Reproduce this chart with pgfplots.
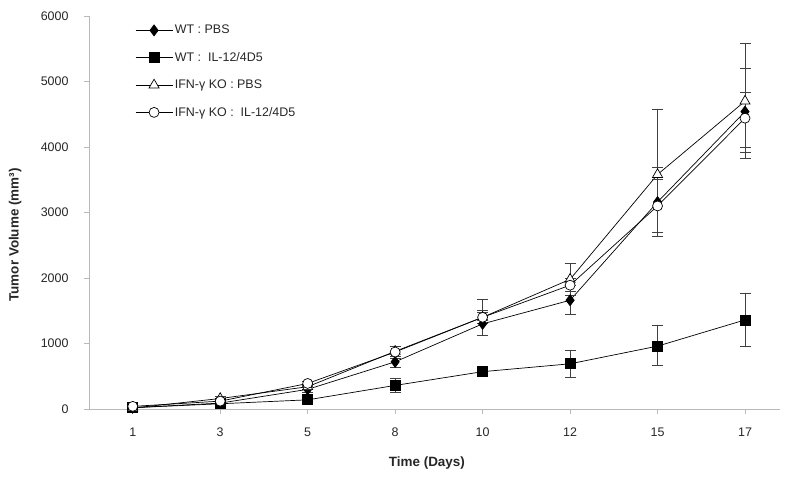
\documentclass[border=0pt]{standalone}
\usepackage{fontspec}
\setmainfont{Liberation Sans}
\usepackage{pgfplots}
\usepackage{pgfplotstable}
\pgfplotsset{compat=1.18}

\pgfplotstableread{
x y ep em
0 20 10 10
1 90 20 20
2 300 40 40
3 720 80 80
4 1300 180 180
5 1660 220 220
6 3160 530 530
7 4540 660 630
}\wtpbs
\pgfplotstableread{
x y ep em
0 20 10 10
1 80 15 15
2 140 30 30
3 360 100 100
4 570 60 60
5 690 210 210
6 960 310 300
7 1360 400 400
}\wtil
\pgfplotstableread{
x y ep em
0 15 10 10
1 160 30 30
2 340 40 40
3 880 80 80
4 1400 280 280
5 1980 240 240
6 3580 1000 950
7 4700 880 870
}\kopbs
\pgfplotstableread{
x y ep em
0 40 10 10
1 120 20 20
2 390 30 30
3 870 90 90
4 1400 100 100
5 1890 100 100
6 3100 400 400
7 4440 400 450
}\koil

\begin{document}
\begin{tikzpicture}
\begin{axis}[
  name=ax,
  scale only axis=true,
  width=691bp, height=393bp,
  xmin=-0.5, xmax=7.4,
  ymin=0, ymax=6000,
  clip=false,
  axis lines=left,
  axis line style={gray!55, line width=0.7pt, -},
  xtick={0,...,7},
  xticklabels={1,3,5,8,10,12,15,17},
  ytick={0,1000,...,6000},
  tick align=outside,
  major tick length=5bp,
  tick style={gray!55, line width=0.7pt},
  /pgf/number format/assume math mode=true,
  scaled y ticks=false,
  yticklabel style={/pgf/number format/1000 sep={}, xshift=-12bp},
  xticklabel style={yshift=-10bp},
  tick label style={font=\fontsize{12.5}{14}\selectfont, text=black!85},
  xlabel={Time (Days)},
  ylabel={Tumor Volume (mm³)},
  label style={font=\fontsize{13.5}{15}\selectfont\bfseries, text=black!85},
  xlabel style={at={(axis description cs:0.489,-0.137)}, anchor=center},
  ylabel style={at={(axis description cs:-0.107,0.443)}, anchor=center, rotate=0},
  legend style={draw=none, fill=none, at={(axis description cs:0.0666,0.982)}, anchor=north west,
    font=\fontsize{12.5}{14}\selectfont, text=black!85, row sep=13bp, inner sep=0pt},
  legend cell align=left,
  legend image code/.code={\draw[mark repeat=2,mark phase=2] plot coordinates {(0bp,0bp)(18.5bp,0bp)(37bp,0bp)};},
  error bars/error bar style={black!75, line width=0.8pt},
  error bars/error mark options={rotate=90, mark size=5.5bp, black!75, line width=0.8pt},
]
\addplot[black, line width=0.7pt, mark=diamond*, mark size=5.5bp, mark options={fill=black, draw=black, solid},
  error bars/.cd, y dir=both, y explicit] table[x=x, y=y, y error plus=ep, y error minus=em]{\wtpbs};
\addlegendentry{WT : PBS}
\addplot[black, line width=0.7pt, mark=square*, mark size=5bp, mark options={fill=black, draw=black, solid},
  error bars/.cd, y dir=both, y explicit] table[x=x, y=y, y error plus=ep, y error minus=em]{\wtil};
\addlegendentry{WT :\ \ IL-12/4D5}
\addplot[black, line width=0.7pt, mark=triangle*, mark size=5.8bp, mark options={fill=white, draw=black, solid},
  error bars/.cd, y dir=both, y explicit] table[x=x, y=y, y error plus=ep, y error minus=em]{\kopbs};
\addlegendentry{IFN-γ KO : PBS}
\addplot[black, line width=0.7pt, mark=*, mark size=5bp, mark options={fill=white, draw=black, solid},
  error bars/.cd, y dir=both, y explicit] table[x=x, y=y, y error plus=ep, y error minus=em]{\koil};
\addlegendentry{IFN-γ KO :\ \ IL-12/4D5}
\end{axis}
\pgfresetboundingbox
\path[use as bounding box] ([shift={(-89bp,-70bp)}]ax.south west) rectangle ++(800bp,479bp);
\end{tikzpicture}
\end{document}
